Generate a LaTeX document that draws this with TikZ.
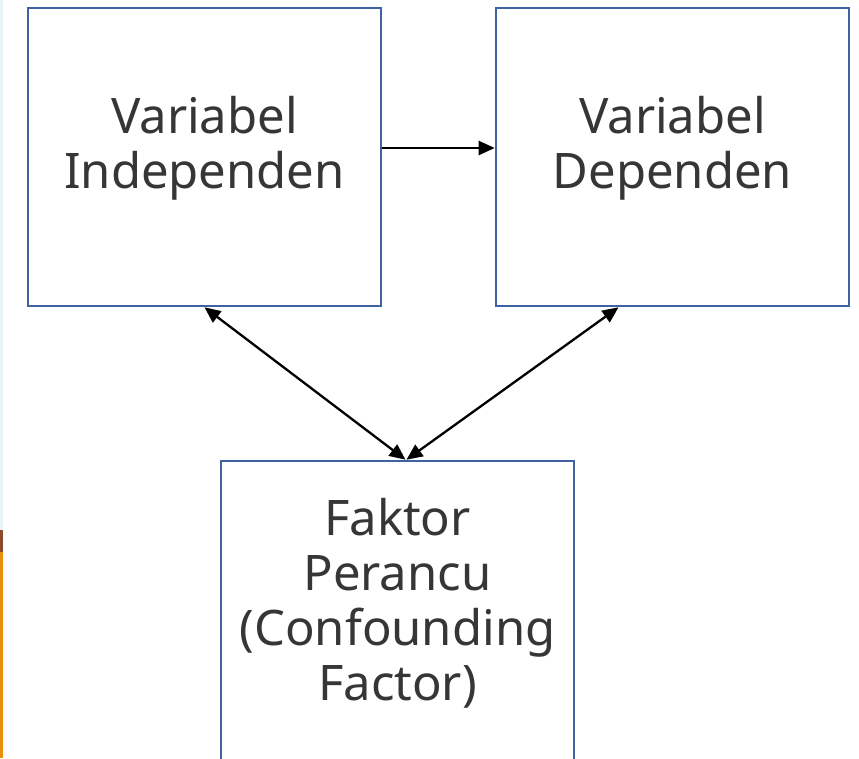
\documentclass[tikz,border=0pt]{standalone}
\usepackage{fontspec}
\setmainfont{Noto Sans}
\usetikzlibrary{arrows.meta,calc}
\definecolor{boxblue}{HTML}{3F62A3}
\definecolor{inkgray}{HTML}{363636}
\definecolor{edgepale}{HTML}{EAF3F6}
\definecolor{edgebrown}{HTML}{8A4B2C}
\definecolor{edgeorange}{HTML}{E8900E}
\tikzset{
  varbox/.style={draw=boxblue, line width=2.6pt, fill=white, minimum width=353pt, inner sep=0pt},
  varlabel/.style={text=inkgray, align=center, font=\fontsize{49}{55}\selectfont, inner sep=0pt},
  tip/.style={Triangle[length=16pt,width=14pt]},
  link/.style={draw=black, line width=2.3pt, -{Triangle[length=16pt,width=14pt]}},
  twolink/.style={draw=black, line width=2.3pt, {Triangle[length=16pt,width=14pt]}-{Triangle[length=16pt,width=14pt]}}
}
\begin{document}
\begin{tikzpicture}[x=1pt, y=-1pt]
  \useasboundingbox (0,0) rectangle (859,758);
  \clip (0,0) rectangle (859,758);
  \fill[white] (0,0) rectangle (859,758);
  % thin strip of a neighbouring picture along the left edge
  \fill[edgepale] (0,0) rectangle (2.5,530);
  \fill[edgebrown] (0,530) rectangle (2.5,552);
  \fill[edgeorange] (0,552) rectangle (2.5,758);

  % boxes
  \node[varbox, minimum height=298pt] (A) at (204.5,157) {};
  \node[varbox, minimum height=298pt] (B) at (672.5,157) {};
  \node[varbox, minimum height=360pt] (C) at (397.5,641) {};

  % labels
  \node[varlabel] (tA) at (204.5,148) {Variabel\\Independen};
  \node[varlabel] (tB) at (672.5,148) {Variabel\\Dependen};
  \node[varlabel] (tC) at (397.5,603) {Faktor\\Perancu\\(Confounding\\Factor)};

  % connectors
  \draw[link] ([yshift=9pt]A.east) -- ([yshift=9pt]B.west);
  \draw[twolink] (A.south) -- ([xshift=8pt]C.north);
  \draw[twolink] ([xshift=-54pt]B.south) -- ([xshift=9pt]C.north);
\end{tikzpicture}
\end{document}
